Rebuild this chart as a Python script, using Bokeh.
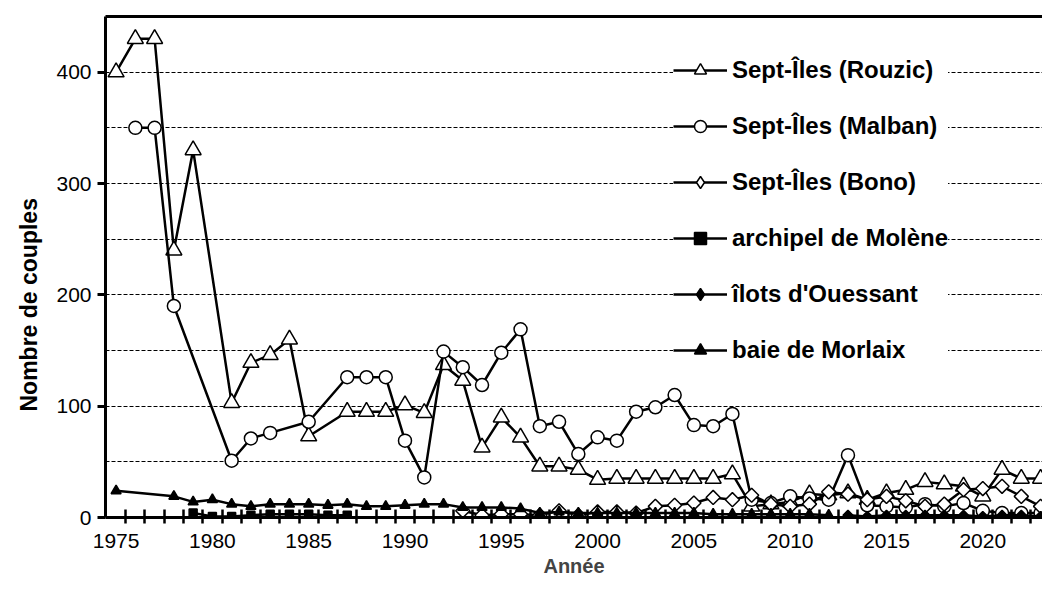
import math
from bokeh.plotting import figure
from bokeh.models import FixedTicker, LinearAxis, Legend, LegendItem, Range1d, Title
from bokeh.embed import file_html
from bokeh.resources import INLINE

years = list(range(1975, 2024))

rouzic = [400, 430, 430, 240, 330, None, 103, 139, 146, 160,
          73, None, 95, 95, 95, 101, 94, 137, 123, 63,
          90, 72, 46, 46, 43, 34, 35, 35, 35, 35,
          35, 35, 39, 10, 12, 14, 21, 20, 22, 16,
          22, 25, 32, 30, 28, 19, 43, 35, 35]
malban = [None, 350, 350, 190, None, None, 51, 71, 76, None,
          86, None, 126, 126, 126, 69, 36, 149, 135, 119,
          148, 169, 82, 86, 57, 72, 69, 95, 99, 110,
          83, 82, 93, 16, 13, 19, 17, 16, 56, 11,
          10, 9, 12, 10, 13, 6, 4, 4, 4]
bono = [None] * 18 + [6, 2, 3, 3, 2, 6, 2, 5, 5, 4,
                      10, 11, 13, 18, 16, 20, 12, 10, 12, 23,
                      21, 16, 19, 15, 10, 12, 25, 26, 28, 19, 10]
molene = [None] * 4 + [4, 1, 1, 2, 3, 3, 3, 2, 2] + [None] * 36
ouessant = [None] * 38 + [2, 1, 2, 2, 2, 2, 2, 1, 2, 2, 1]
morlaix = [24, None, None, 19, 14, 16, 12, 10, 12, 12,
           12, 11, 12, 10, 10, 11, 12, 12, 9, 9,
           9, 8, 4, 5, 4, 4, 4, 4, 4, 4,
           4, 3, 3, 3, 3, 3, 3, 2] + [None] * 11

series_names = ["Sept-Îles (Rouzic)", "Sept-Îles (Malban)", "Sept-Îles (Bono)",
                "archipel de Molène", "îlots d'Ouessant", "baie de Morlaix"]
y_ticks = [0, 100, 200, 300, 400]
x_label_years = [1975, 1980, 1985, 1990, 1995, 2000, 2005, 2010, 2015, 2020]

FONT = "Liberation Sans"

p = figure(width=1042, height=601, output_backend="svg", toolbar_location=None,
           x_range=Range1d(1974.45, 2023.1), y_range=Range1d(0, 450),
           min_border_left=105, min_border_right=0, min_border_top=16,
           min_border_bottom=84)
p.outline_line_color = None
p.background_fill_color = "white"
p.border_fill_color = "white"

# axes
xa = p.xaxis[0]
xa.ticker = FixedTicker(ticks=x_label_years,
                        minor_ticks=[y + 0.5 for y in range(1975, 2023)])
xa.axis_line_width = 3
xa.major_tick_in = 0
xa.major_tick_out = 0
xa.minor_tick_in = 8
xa.minor_tick_out = 6
xa.minor_tick_line_width = 2.5
xa.major_label_standoff = 10
xa.major_label_text_font = FONT
xa.major_label_text_font_size = "21px"
xa.major_label_text_color = "black"
xa.axis_label = "Année"
xa.axis_label_text_font = FONT
xa.axis_label_text_font_size = "20px"
xa.axis_label_text_font_style = "bold"
xa.axis_label_standoff = 4

ya = p.yaxis[0]
ya.ticker = FixedTicker(ticks=y_ticks)
ya.axis_line_width = 3
ya.major_tick_in = 0
ya.major_tick_out = 8
ya.major_tick_line_width = 3
ya.minor_tick_line_color = None
ya.major_label_standoff = 6
ya.major_label_text_font = FONT
ya.major_label_text_font_size = "21px"
ya.major_label_text_color = "black"

# y-axis title, placed lower than the centre as in the original
ytitle = Title(text="Nombre de couples", align="left", offset=106,
               text_font=FONT, text_font_size="23px", text_font_style="bold",
               text_color="black", standoff=24)
p.add_layout(ytitle, "left")

top = LinearAxis(ticker=FixedTicker(ticks=[]), major_label_text_font_size="0px",
                 axis_line_width=3, major_tick_line_color=None,
                 minor_tick_line_color=None, major_label_standoff=0)
p.add_layout(top, "above")

p.xgrid.grid_line_color = None
p.ygrid.ticker = FixedTicker(ticks=[50, 100, 150, 200, 250, 300, 350, 400])
p.ygrid.grid_line_color = "black"
p.ygrid.grid_line_width = 1
p.ygrid.grid_line_dash = "4 2"

styles = [
    dict(marker="triangle", size=16, fill_color="white", angle=0, legend_marker="triangle"),
    dict(marker="circle", size=13, fill_color="white", angle=0, legend_marker="circle"),
    dict(marker="square", size=10, fill_color="white", angle=math.pi / 4, legend_marker="diamond"),
    dict(marker="square", size=8, fill_color="black", angle=0, legend_marker="square"),
    dict(marker="square", size=7, fill_color="black", angle=math.pi / 4, legend_marker="diamond"),
    dict(marker="triangle", size=10, fill_color="black", angle=0, legend_marker="triangle"),
]
all_series = [rouzic, malban, bono, molene, ouessant, morlaix]

NAN = float("nan")
items = []
for name, vals, st in zip(series_names, all_series, styles):
    xs = [y for y, v in zip(years, vals) if v is not None]
    ys = [v for v in vals if v is not None]
    lr = p.line(xs, ys, line_color="black", line_width=2.5)
    sr = p.scatter(xs, ys, marker=st["marker"], size=st["size"],
                   fill_color=st["fill_color"], line_color="black",
                   line_width=1.5, angle=st["angle"])
    if st["angle"] != 0:
        # legend swatch only: a diamond marker (legend ignores rotation)
        lg = p.scatter([NAN], [NAN], marker=st["legend_marker"], size=st["size"],
                       fill_color=st["fill_color"], line_color="black",
                       line_width=1.5)
        items.append(LegendItem(label=name, renderers=[lr, lg]))
    else:
        items.append(LegendItem(label=name, renderers=[lr, sr]))

legend = Legend(items=items, location=(568, 152))
legend.border_line_color = None
legend.background_fill_color = "white"
legend.background_fill_alpha = 1
legend.padding = 0
legend.margin = 0
legend.spacing = 26
legend.glyph_width = 54
legend.glyph_height = 30
legend.label_height = 30
legend.label_standoff = 5
legend.label_text_font = FONT
legend.label_text_font_size = "24px"
legend.label_text_font_style = "bold"
legend.label_text_color = "black"
p.add_layout(legend)

open("out.html", "w").write(file_html(p, INLINE))
